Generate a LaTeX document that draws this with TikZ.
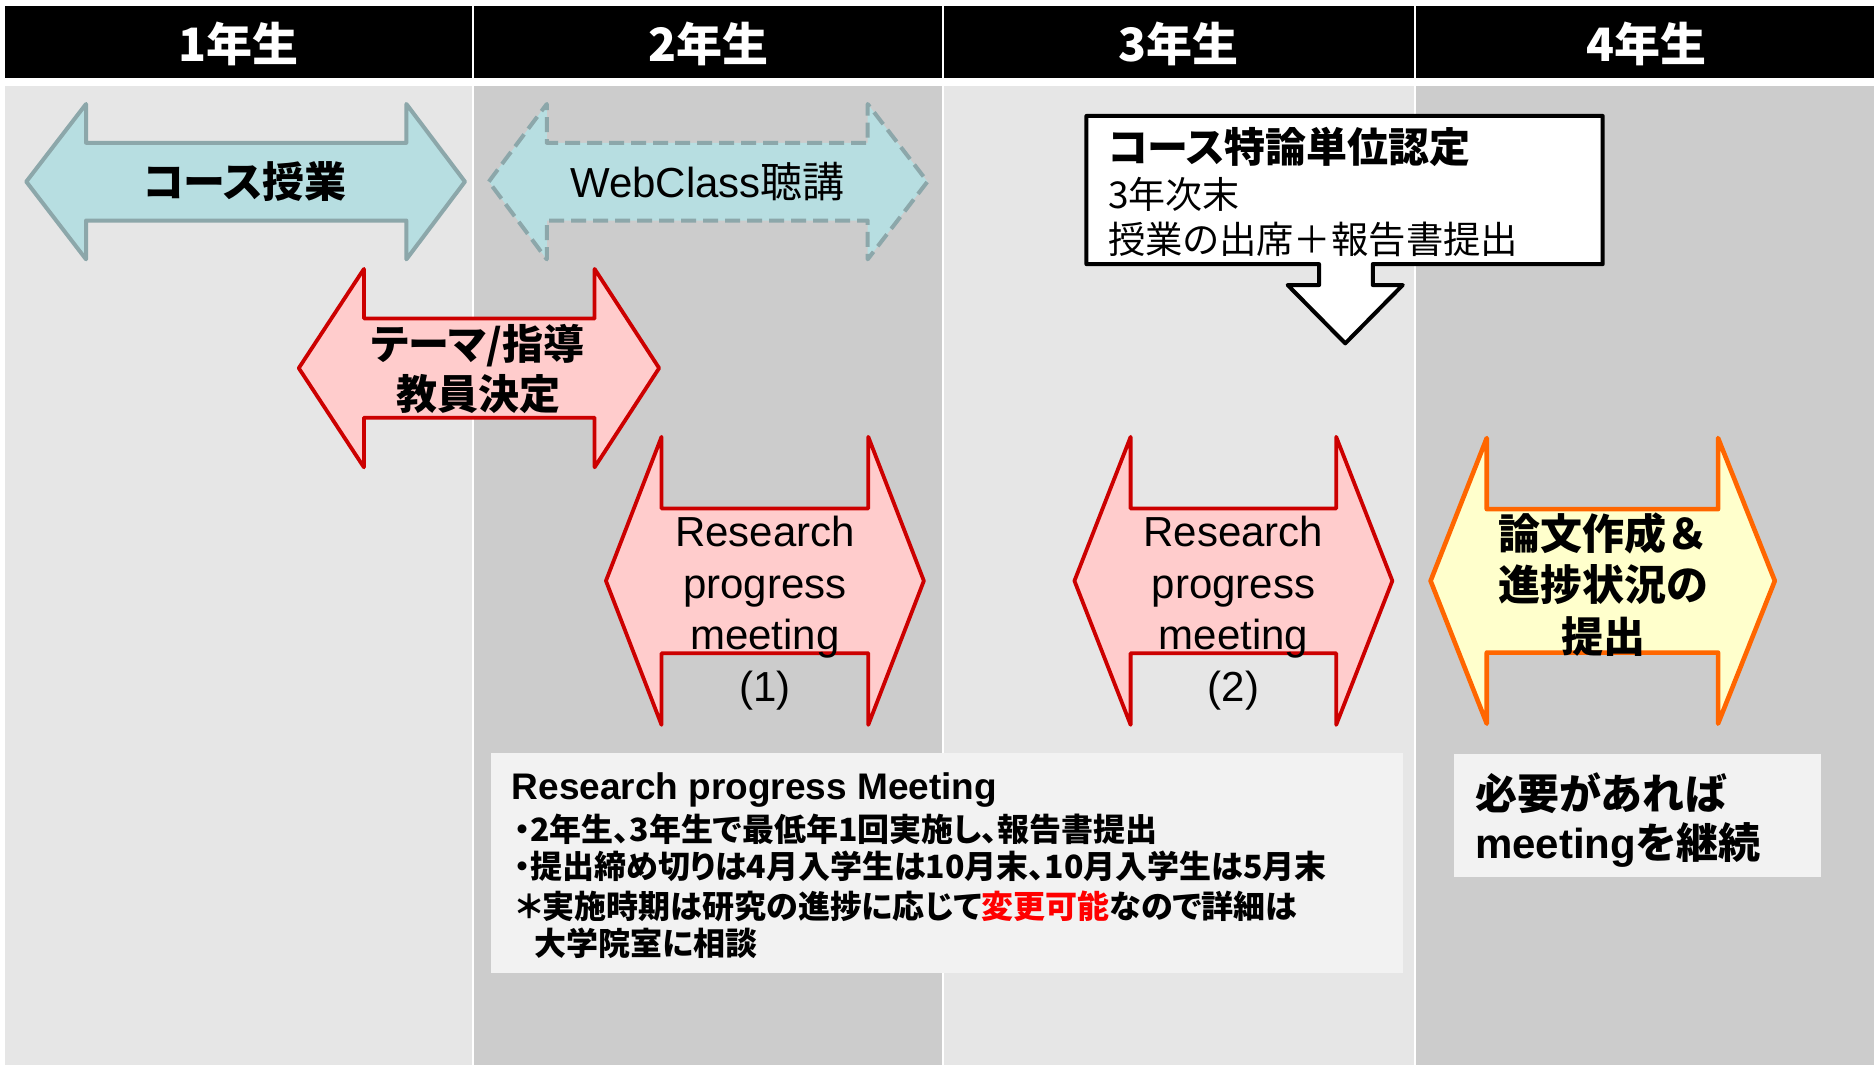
\documentclass[tikz,border=0pt]{standalone}
\usepackage{fontspec}
\setmainfont{Liberation Sans}
\newfontfamily\jp[RawFeature=+palt]{Noto Sans CJK JP}
\newfontfamily\jpm{Noto Sans CJK JP}
\definecolor{bglight}{HTML}{E6E6E6}
\definecolor{bgdark}{HTML}{CCCCCC}
\definecolor{abluefill}{HTML}{B7DEE1}
\definecolor{abluedraw}{HTML}{8CA7AA}
\definecolor{aredfill}{HTML}{FFCCCC}
\definecolor{areddraw}{HTML}{CC0000}
\definecolor{aorgfill}{HTML}{FFFFCC}
\definecolor{aorgdraw}{HTML}{FF6600}
\definecolor{infofill}{HTML}{F2F2F2}
\definecolor{alertred}{HTML}{FF0000}
\newcommand\DblArrow[8]{% style, left tip, left neck, right neck, right tip, centre y, shaft half, head half
  \draw[#1] (#2,#6) -- (#3,#6-#8) -- (#3,#6-#7) -- (#4,#6-#7) -- (#4,#6-#8) -- (#5,#6)
    -- (#4,#6+#8) -- (#4,#6+#7) -- (#3,#6+#7) -- (#3,#6+#8) -- cycle;}
\tikzset{
  bluearrow/.style={fill=abluefill, draw=abluedraw, line width=2pt, line join=round},
  redarrow/.style={fill=aredfill, draw=areddraw, line width=1.9pt, line join=round},
  orgarrow/.style={fill=aorgfill, draw=aorgdraw, line width=2.3pt, line join=round},
  hdr/.style={text=white, inner sep=0pt, font=\jp\bfseries\fontsize{23pt}{26pt}\selectfont},
  jpbig/.style={inner sep=0pt, font=\jp\bfseries\fontsize{21pt}{25pt}\selectfont},
  rpmtext/.style={inner sep=0pt, align=center, font=\fontsize{21pt}{25.7pt}\selectfont},
  lefttext/.style={inner sep=0pt, anchor=west},
  infoline/.style={inner sep=0pt, anchor=west, font=\jp\bfseries\fontsize{16pt}{19pt}\selectfont},
}
\begin{document}
\begin{tikzpicture}[x=0.5976pt, y=-0.5976pt]
\useasboundingbox (0,0) rectangle (1568,891);
\fill[white] (0,0) rectangle (1568,891);
% column backgrounds
\fill[bglight] (4,72) rectangle (395,891);
\fill[bgdark] (397,72) rectangle (788,891);
\fill[bglight] (790,72) rectangle (1183,891);
\fill[bgdark] (1185,72) rectangle (1568,891);
% header
\fill[black] (4,5) rectangle (395,65);
\fill[black] (397,5) rectangle (788,65);
\fill[black] (790,5) rectangle (1183,65);
\fill[black] (1185,5) rectangle (1568,65);
\node[hdr] (h1) at (199.5,37) {1年生};
\node[hdr] (h2) at (592.5,37) {2年生};
\node[hdr] (h3) at (986,37) {3年生};
\node[hdr] (h4) at (1378,37) {4年生};
% arrows row 1
\DblArrow{bluearrow}{22}{72}{340}{389}{152}{32.5}{65}
\node[jpbig] (course) at (205,152) {コース授業};
\DblArrow{bluearrow, dash pattern=on 7.5pt off 3.5pt}{409}{457.5}{726}{776}{152}{32.5}{65}
\node[inner sep=0pt, font=\fontsize{21pt}{25pt}\selectfont] (webclass) at (592,152) {WebClass{\jp 聴講}};
% theme arrow
\DblArrow{redarrow}{250}{304.5}{497.5}{551.5}{308}{41.5}{83}
\node[jpbig, align=center, font=\jp\bfseries\fontsize{20.5pt}{25pt}\selectfont] (theme) at (400,309) {テーマ/指導\\教員決定};
% callout
\draw[fill=white, draw=black, line width=2pt, line join=round] (909,97) -- (1341,97) -- (1341,221) -- (1148.6,221) -- (1148.6,238.5) -- (1173.7,238.5) -- (1125.6,287.3) -- (1077.4,238.5) -- (1103.7,238.5) -- (1103.7,221) -- (909,221) -- cycle;
\node[lefttext, font=\jp\bfseries\fontsize{20.5pt}{24pt}\selectfont] (ctitle) at (927,123) {コース特論単位認定};
\node[lefttext, font=\jp\fontsize{18.5pt}{22pt}\selectfont] (cline1) at (927,163) {3年次末};
\node[lefttext, font=\jp\fontsize{18.7pt}{22pt}\selectfont] (cline2) at (927,200) {授業の出席＋報告書提出};
% RPM arrows
\DblArrow{redarrow}{507}{553.5}{726.5}{773}{486}{60.5}{120.5}
\node[rpmtext] (rpm1) at (640,513) {Research\\progress\\meeting\\(1)};
\DblArrow{redarrow}{899}{946}{1118}{1165}{486}{60.5}{120.5}
\node[rpmtext] (rpm2) at (1032,513) {Research\\progress\\meeting\\(2)};
\DblArrow{orgarrow}{1197}{1244}{1437.5}{1485}{486}{60}{119.5}
\node[inner sep=0pt, align=center, font=\jpm\bfseries\fontsize{21pt}{25.7pt}\selectfont] (thesis) at (1341.5,489) {論文作成＆\\進捗状況の\\提出};
% info box
\fill[infofill] (410.5,630) rectangle (1174,814);
\node[lefttext, font=\bfseries\fontsize{18.5pt}{22pt}\selectfont] (ititle) at (428,661) {Research progress Meeting};
\node[infoline] (iline1) at (430,693.5) {・2年生、3年生で最低年1回実施し、報告書提出};
\node[infoline] (iline2) at (430,725) {・提出締め切りは4月入学生は10月末、10月入学生は5月末};
\node[infoline] (iline3) at (432,758) {＊実施時期は研究の進捗に応じて\textcolor{alertred}{変更可能}なので詳細は};
\node[infoline] (iline4) at (447,789) {大学院室に相談};
% continue box
\fill[infofill] (1216.5,631) rectangle (1524,733.5);
\node[lefttext, font=\jp\bfseries\fontsize{21pt}{25pt}\selectfont] (cont1) at (1234,664) {必要があれば};
\node[lefttext, font=\bfseries\fontsize{21pt}{25pt}\selectfont] (cont2) at (1234,707) {meeting{\jp を継続}};
\end{tikzpicture}
\end{document}
